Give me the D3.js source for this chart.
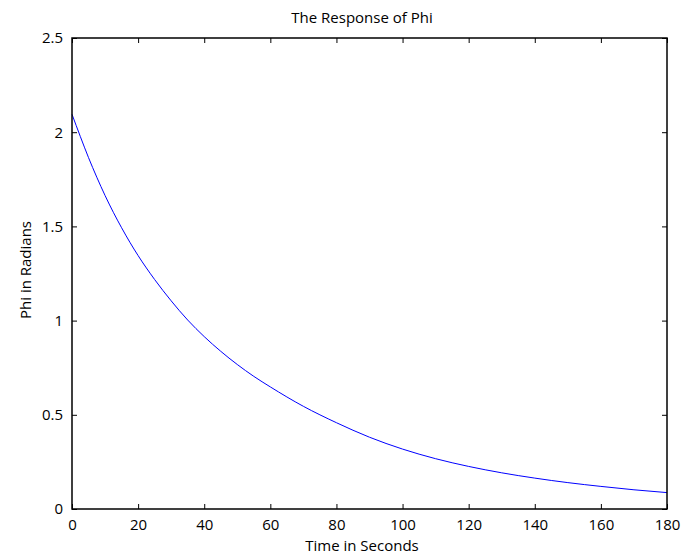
<!DOCTYPE html>
<html>
<head>
<meta charset="utf-8">
<script src="https://cdn.jsdelivr.net/npm/d3@7"></script>
<style>
  html, body { margin: 0; padding: 0; background: #fff; }
  text { font-family: "Open Sans", "DejaVu Sans", sans-serif; fill: #000; }
</style>
</head>
<body>
<svg id="chart" width="681" height="557"></svg>
<script>
const timeValues = [0, 2.5, 5, 7.5, 10, 12.5, 15, 17.5, 20, 25, 30, 35, 40, 45, 50, 55, 60, 70, 80, 90, 100, 110, 120, 130, 140, 150, 160, 170, 180];
const phiValues  = [2.095, 1.978, 1.865, 1.761, 1.664, 1.575, 1.493, 1.416, 1.345, 1.218, 1.105, 1.003, 0.915, 0.837, 0.767, 0.704, 0.648, 0.545, 0.458, 0.381, 0.318, 0.267, 0.226, 0.192, 0.164, 0.140, 0.120, 0.102, 0.087];
const xTicks = [0, 20, 40, 60, 80, 100, 120, 140, 160, 180];
const yTicks = [0, 0.5, 1, 1.5, 2, 2.5];
const titleText = "The Response of Phi";
const xLabel = "Time in Seconds";
const yLabel = "Phi in Radians";

const svg = d3.select("#chart");
const L = 72, R = 667, T = 38, B = 509;
const x = d3.scaleLinear().domain([0, 180]).range([L, R]);
const y = d3.scaleLinear().domain([0, 2.5]).range([B, T]);
const tk = 5;
const fs = "15px";

const data = timeValues.map((t, i) => ({t, v: phiValues[i]}));

svg.append("path")
  .datum(data)
  .attr("fill", "none")
  .attr("stroke", "#0000ff")
  .attr("stroke-width", 1)
  .attr("d", d3.line().x(d => x(d.t)).y(d => y(d.v)).curve(d3.curveMonotoneX));

const fmt = d => String(d);
svg.append("g").attr("transform", `translate(0,${B})`)
  .call(d3.axisBottom(x).tickValues(xTicks).tickFormat(fmt).tickSizeInner(-tk).tickSizeOuter(0).tickPadding(10))
  .call(g => g.select(".domain").remove());
svg.append("g").attr("transform", `translate(0,${T})`)
  .call(d3.axisTop(x).tickValues(xTicks).tickFormat("").tickSizeInner(-tk).tickSizeOuter(0))
  .call(g => g.select(".domain").remove());
svg.append("g").attr("transform", `translate(${L},0)`)
  .call(d3.axisLeft(y).tickValues(yTicks).tickFormat(fmt).tickSizeInner(-tk).tickSizeOuter(0).tickPadding(9))
  .call(g => g.select(".domain").remove());
svg.append("g").attr("transform", `translate(${R},0)`)
  .call(d3.axisRight(y).tickValues(yTicks).tickFormat("").tickSizeInner(-tk).tickSizeOuter(0))
  .call(g => g.select(".domain").remove());

svg.selectAll(".tick text").style("font-size", fs).style("font-family", '"Open Sans", "DejaVu Sans", sans-serif');
svg.selectAll(".tick line").attr("stroke", "#000");

svg.append("rect")
  .attr("x", L).attr("y", T).attr("width", R - L).attr("height", B - T)
  .attr("fill", "none").attr("stroke", "#000").attr("stroke-width", 1.5);

svg.append("text").attr("x", 362).attr("y", 23).attr("text-anchor", "middle")
  .style("font-size", fs).text(titleText);
svg.append("text").attr("x", 362).attr("y", 551).attr("text-anchor", "middle")
  .style("font-size", fs).text(xLabel);
svg.append("text").attr("transform", `translate(31,270) rotate(-90)`).attr("text-anchor", "middle")
  .style("font-size", fs).text(yLabel);
</script>
</body>
</html>
